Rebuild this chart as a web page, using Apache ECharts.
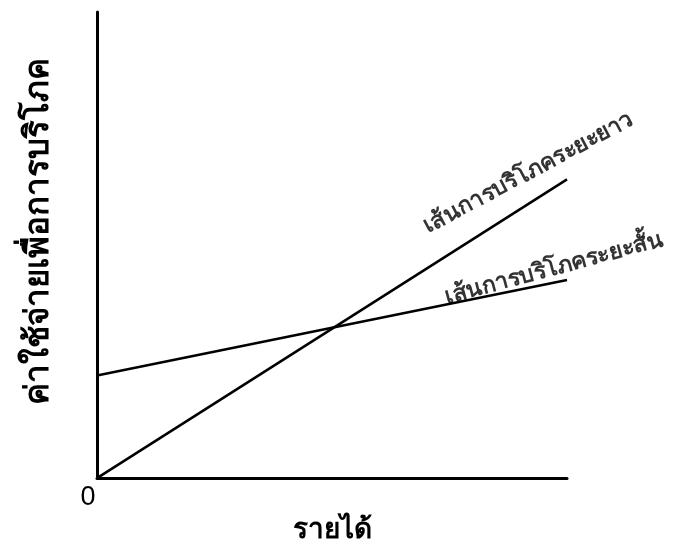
<!DOCTYPE html>
<html>
<head>
<meta charset="utf-8">
<script src="https://cdn.jsdelivr.net/npm/echarts@6/dist/echarts.min.js"></script>
<style>
html, body { margin: 0; padding: 0; background: #fff; }
#chart { width: 686px; height: 549px; }
</style>
</head>
<body>
<div id="chart"></div>
<script>
// income (x) and consumption (y), arbitrary units
var longRun = [[0, 0], [10, 6.41]];
var shortRun = [[0, 2.2], [10, 4.25]];
var longLabel = 'เส้นการบริโภคระยะยาว';
var shortLabel = 'เส้นการบริโภคระยะสั้น';
var longLabelAt = [9.18, 6.55];
var shortLabelAt = [9.72, 4.5];
var xName = 'รายได้';
var yName = 'ค่าใช้จ่ายเพื่อการบริโภค';

var font = 'sans-serif';
var chart = echarts.init(document.getElementById('chart'));

// invisible point carrying a rotated text label
function tag(text, at, angle) {
    return {
        type: 'scatter',
        silent: true,
        symbol: 'circle',
        symbolSize: 1,
        itemStyle: { color: 'rgba(0,0,0,0)' },
        data: [at],
        label: {
            show: true,
            formatter: text,
            position: 'inside',
            rotate: angle,
            color: '#000',
            fontSize: 23,
            fontWeight: 'bold',
            fontFamily: font
        }
    };
}

chart.setOption({
    animation: false,
    grid: { left: 97, right: 119, top: 12, bottom: 69 },
    xAxis: {
        type: 'value',
        min: 0,
        max: 10,
        name: xName,
        nameLocation: 'middle',
        nameGap: 36,
        nameTextStyle: { color: '#000', fontSize: 28, fontWeight: 'bold', fontFamily: font },
        axisLine: { lineStyle: { color: '#000', width: 3 } },
        axisTick: { show: false },
        splitLine: { show: false },
        axisLabel: {
            color: '#000',
            fontSize: 27,
            fontFamily: font,
            margin: 6,
            padding: [0, 18, 0, 0],
            formatter: function (v) { return v === 0 ? '0' : ''; }
        }
    },
    yAxis: {
        type: 'value',
        min: 0,
        max: 10,
        name: yName,
        nameLocation: 'middle',
        nameGap: 42,
        nameTextStyle: { color: '#000', fontSize: 33, fontWeight: 'bold', fontFamily: font, padding: [0, 0, 0, 28] },
        axisLine: { lineStyle: { color: '#000', width: 3 } },
        axisTick: { show: false },
        splitLine: { show: false },
        axisLabel: { show: false }
    },
    series: [
        {
            type: 'line',
            data: longRun,
            symbol: 'none',
            lineStyle: { color: '#000', width: 2.5 }
        },
        {
            type: 'line',
            data: shortRun,
            symbol: 'none',
            lineStyle: { color: '#000', width: 2.5 }
        },
        tag(longLabel, longLabelAt, 28),
        tag(shortLabel, shortLabelAt, 15)
    ]
});
</script>
</body>
</html>
